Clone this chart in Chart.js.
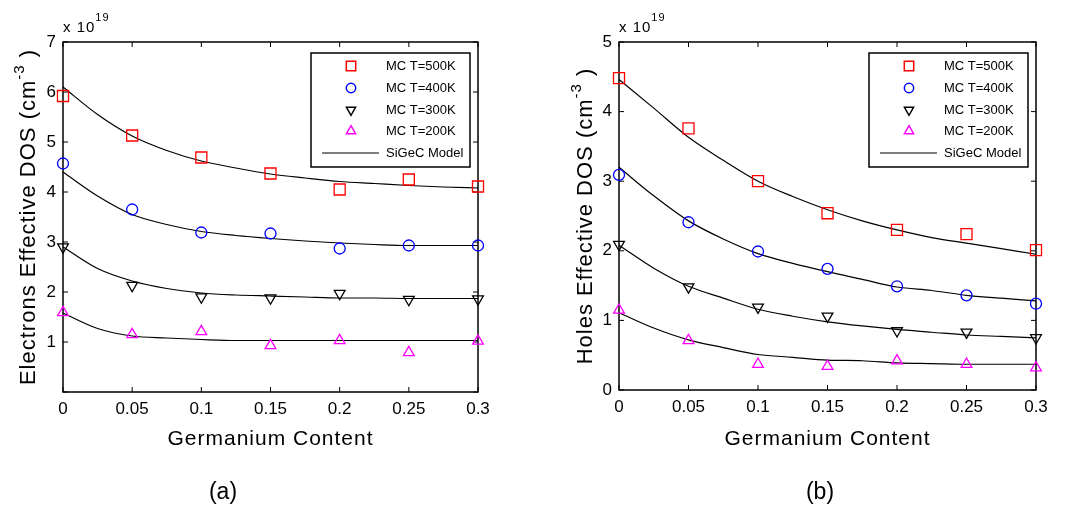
<!DOCTYPE html>
<html><head><meta http-equiv="Content-Type" content="text/html; charset=UTF-8">
<title>SiGeC effective density of states</title>
<script src="https://cdn.jsdelivr.net/npm/chart.js@4.4.1/dist/chart.umd.min.js"></script>
<style>
  body { margin: 0; background: #fff; }
  .panel { position: absolute; top: 0; width: 535px; height: 509px; }
</style>
</head>
<body>
<div class="panel" style="left:0"><canvas id="chartA" width="535" height="509"></canvas></div>
<div class="panel" style="left:535px"><canvas id="chartB" width="535" height="509"></canvas></div>
<script>
// germanium content of the Monte Carlo points
var germanium = [0, 0.05, 0.1, 0.15, 0.2, 0.25, 0.3];
// germanium content where the model curve was read
var modelX = [0, 0.025, 0.05, 0.075, 0.1, 0.125, 0.15, 0.175, 0.2, 0.225, 0.25, 0.275, 0.3];

var xTickLabels = ['0', '0.05', '0.1', '0.15', '0.2', '0.25', '0.3'];
var yTicksA = [0, 1, 2, 3, 4, 5, 6, 7];
var yTickLabelsA = ['', '1', '2', '3', '4', '5', '6', '7'];
var yTicksB = [0, 1, 2, 3, 4, 5];
var yTickLabelsB = ['0', '1', '2', '3', '4', '5'];

// (a) electrons, x 1e19 cm^-3
var elecMC500 = [5.92, 5.13, 4.69, 4.37, 4.05, 4.25, 4.11];
var elecMC400 = [4.57, 3.65, 3.19, 3.17, 2.87, 2.93, 2.93];
var elecMC300 = [2.90, 2.13, 1.90, 1.88, 1.97, 1.85, 1.86];
var elecMC200 = [1.59, 1.15, 1.21, 0.93, 1.03, 0.79, 1.02];
var elecModel500 = [6.10, 5.55, 5.12, 4.83, 4.62, 4.48, 4.36, 4.28, 4.21, 4.17, 4.13, 4.10, 4.08];
var elecModel400 = [4.40, 3.92, 3.55, 3.35, 3.21, 3.13, 3.07, 3.02, 2.98, 2.95, 2.93, 2.93, 2.93];
var elecModel300 = [2.90, 2.47, 2.22, 2.07, 1.98, 1.94, 1.92, 1.90, 1.88, 1.88, 1.87, 1.87, 1.87];
var elecModel200 = [1.58, 1.27, 1.12, 1.08, 1.05, 1.03, 1.03, 1.03, 1.03, 1.03, 1.03, 1.03, 1.03];

// (b) holes, x 1e19 cm^-3
var holeMC500 = [4.48, 3.76, 3.00, 2.54, 2.30, 2.24, 2.01];
var holeMC400 = [3.09, 2.41, 1.99, 1.74, 1.49, 1.36, 1.24];
var holeMC300 = [2.09, 1.48, 1.19, 1.06, 0.85, 0.83, 0.75];
var holeMC200 = [1.15, 0.71, 0.37, 0.34, 0.42, 0.37, 0.32];
var holeModel500 = [4.46, 4.05, 3.63, 3.30, 3.00, 2.78, 2.59, 2.43, 2.30, 2.19, 2.11, 2.03, 1.95];
var holeModel400 = [3.20, 2.79, 2.43, 2.17, 1.96, 1.82, 1.70, 1.59, 1.48, 1.43, 1.36, 1.32, 1.28];
var holeModel300 = [2.08, 1.75, 1.49, 1.32, 1.16, 1.06, 0.98, 0.92, 0.87, 0.83, 0.79, 0.77, 0.75];
var holeModel200 = [1.11, 0.89, 0.72, 0.61, 0.51, 0.47, 0.43, 0.42, 0.39, 0.38, 0.37, 0.37, 0.37];

var FONT = '"Liberation Sans", Arial, Helvetica, sans-serif';

function pts(xs, ys) {
  return xs.map(function(x, i) { return { x: x, y: ys[i] }; });
}

function mcSet(label, xs, ys, style, color, radius, rot) {
  return {
    type: 'scatter', label: label, data: pts(xs, ys),
    pointStyle: style, pointRadius: radius, pointHoverRadius: radius,
    pointRotation: rot || 0, pointBorderWidth: 1.3,
    borderColor: color, backgroundColor: 'rgba(0,0,0,0)',
    clip: false, order: 1
  };
}

function modelSet(ys) {
  return {
    type: 'line', label: 'SiGeC Model', data: pts(modelX, ys),
    borderColor: '#000', borderWidth: 1.2, pointRadius: 0,
    cubicInterpolationMode: 'monotone', fill: false, clip: false, order: 2
  };
}

function drawMark(ctx, style, x, y, r, rot) {
  Chart.helpers.drawPoint(ctx, { pointStyle: style, radius: r, rotation: rot || 0, borderWidth: 1.3 }, x, y);
}

// MATLAB style box, inward ticks, titles and legend
function matlabLook(o) {
  return {
    id: 'matlabLook',
    beforeDatasetsDraw: function(chart) {
      var ctx = chart.ctx, ca = chart.chartArea;
      var xs = chart.scales.x, ys = chart.scales.y;
      ctx.save();
      ctx.strokeStyle = '#000';
      ctx.lineWidth = 1.5;
      ctx.strokeRect(ca.left, ca.top, ca.right - ca.left, ca.bottom - ca.top);
      ctx.lineWidth = 1;
      ctx.beginPath();
      germanium.forEach(function(v) {
        var px = xs.getPixelForValue(v);
        ctx.moveTo(px, ca.bottom); ctx.lineTo(px, ca.bottom - 5);
        ctx.moveTo(px, ca.top); ctx.lineTo(px, ca.top + 5);
      });
      o.yTicks.forEach(function(v) {
        var py = ys.getPixelForValue(v);
        ctx.moveTo(ca.left, py); ctx.lineTo(ca.left + 5, py);
        ctx.moveTo(ca.right, py); ctx.lineTo(ca.right - 5, py);
      });
      ctx.stroke();
      ctx.restore();
    },
    afterDraw: function(chart) {
      var ctx = chart.ctx, ca = chart.chartArea;
      ctx.save();
      ctx.fillStyle = '#000';
      ctx.textAlign = 'left';
      ctx.textBaseline = 'alphabetic';

      // x 10^19
      ctx.letterSpacing = '1px';
      ctx.font = '15px ' + FONT;
      ctx.fillText('x 10', ca.left, 32);
      var w10 = ctx.measureText('x 10').width;
      ctx.font = '11px ' + FONT;
      ctx.fillText('19', ca.left + w10, 21);

      // x title
      ctx.font = '21px ' + FONT;
      ctx.textAlign = 'center';
      ctx.fillText('Germanium Content', (ca.left + ca.right) / 2, 445);

      // panel label
      ctx.letterSpacing = '0px';
      ctx.font = '23px ' + FONT;
      ctx.fillText(o.panel, o.panelX, 499);

      // y title with superscript
      ctx.save();
      ctx.translate(o.yTitleX, (ca.top + ca.bottom) / 2);
      ctx.rotate(-Math.PI / 2);
      ctx.textAlign = 'left';
      ctx.letterSpacing = '1px';
      ctx.font = '22px ' + FONT;
      var w1 = ctx.measureText(o.yTitle).width;
      var w3 = ctx.measureText(' )').width;
      ctx.font = '15px ' + FONT;
      var w2 = ctx.measureText('-3').width;
      var x0 = -(w1 + w2 + w3) / 2;
      ctx.fillText('-3', x0 + w1, -11);
      ctx.font = '22px ' + FONT;
      ctx.fillText(o.yTitle, x0, 0);
      ctx.fillText(' )', x0 + w1 + w2, 0);
      ctx.restore();

      // legend box
      var bw = 159, bh = 114;
      var bx = ca.right - 8 - bw, by = ca.top + 11;
      ctx.fillStyle = '#fff';
      ctx.fillRect(bx, by, bw, bh);
      ctx.strokeStyle = '#000';
      ctx.lineWidth = 1.5;
      ctx.strokeRect(bx, by, bw, bh);
      ctx.font = '13px ' + FONT;
      ctx.textAlign = 'left';
      ctx.textBaseline = 'middle';
      var rows = [13, 35, 57, 78, 100];
      var mc = chart.data.datasets.filter(function(d) { return d.type === 'scatter'; });
      mc.forEach(function(d, i) {
        ctx.strokeStyle = d.borderColor;
        ctx.fillStyle = 'rgba(0,0,0,0)';
        drawMark(ctx, d.pointStyle, bx + 40, by + rows[i], d.pointRadius * 0.85, d.pointRotation);
        ctx.fillStyle = '#000';
        ctx.fillText(d.label, bx + 75, by + rows[i]);
      });
      ctx.strokeStyle = '#000';
      ctx.lineWidth = 1.2;
      ctx.beginPath();
      ctx.moveTo(bx + 11, by + rows[4]);
      ctx.lineTo(bx + 68, by + rows[4]);
      ctx.stroke();
      ctx.fillText('SiGeC Model', bx + 75, by + rows[4]);
      ctx.restore();
    }
  };
}

function makeChart(id, o) {
  return new Chart(document.getElementById(id), {
    data: { datasets: o.datasets },
    options: {
      responsive: false,
      animation: false,
      events: [],
      layout: { padding: { left: 0, top: 42, right: o.padRight, bottom: 0 } },
      plugins: { legend: { display: false }, tooltip: { enabled: false } },
      scales: {
        x: {
          type: 'linear', min: 0, max: 0.3,
          grid: { display: false, drawTicks: false },
          border: { display: false },
          afterBuildTicks: function(s) { s.ticks = germanium.map(function(v) { return { value: v }; }); },
          afterFit: function(s) { s.height = o.xHeight; },
          ticks: {
            padding: 7, color: '#000', maxRotation: 0, autoSkip: false,
            font: { family: FONT, size: 17 },
            callback: function(v, i) { return xTickLabels[i]; }
          }
        },
        y: {
          type: 'linear', min: 0, max: o.yMax,
          grid: { display: false, drawTicks: false },
          border: { display: false },
          afterBuildTicks: function(s) { s.ticks = o.yTicks.map(function(v) { return { value: v }; }); },
          afterFit: function(s) { s.width = o.yWidth; },
          ticks: {
            padding: 7, color: '#000', autoSkip: false,
            font: { family: FONT, size: 17 },
            callback: function(v, i) { return o.yLabels[i]; }
          }
        }
      }
    },
    plugins: [matlabLook(o)]
  });
}

makeChart('chartA', {
  yMax: 7, yTicks: yTicksA, yLabels: yTickLabelsA,
  yWidth: 63, xHeight: 117, padRight: 57,
  yTitle: 'Electrons Effective DOS (cm', yTitleX: 35,
  panel: '(a)', panelX: 223,
  datasets: [
    mcSet('MC T=500K', germanium, elecMC500, 'rect', '#ff0000', 7.8),
    mcSet('MC T=400K', germanium, elecMC400, 'circle', '#0000ff', 5.5),
    mcSet('MC T=300K', germanium, elecMC300, 'triangle', '#000000', 6.2, 180),
    mcSet('MC T=200K', germanium, elecMC200, 'triangle', '#ff00ff', 6.2),
    modelSet(elecModel500),
    modelSet(elecModel400),
    modelSet(elecModel300),
    modelSet(elecModel200)
  ]
});

makeChart('chartB', {
  yMax: 5, yTicks: yTicksB, yLabels: yTickLabelsB,
  yWidth: 84, xHeight: 119, padRight: 34,
  yTitle: 'Holes Effective DOS (cm', yTitleX: 57,
  panel: '(b)', panelX: 285,
  datasets: [
    mcSet('MC T=500K', germanium, holeMC500, 'rect', '#ff0000', 7.8),
    mcSet('MC T=400K', germanium, holeMC400, 'circle', '#0000ff', 5.5),
    mcSet('MC T=300K', germanium, holeMC300, 'triangle', '#000000', 6.2, 180),
    mcSet('MC T=200K', germanium, holeMC200, 'triangle', '#ff00ff', 6.2),
    modelSet(holeModel500),
    modelSet(holeModel400),
    modelSet(holeModel300),
    modelSet(holeModel200)
  ]
});
</script>
</body></html>
